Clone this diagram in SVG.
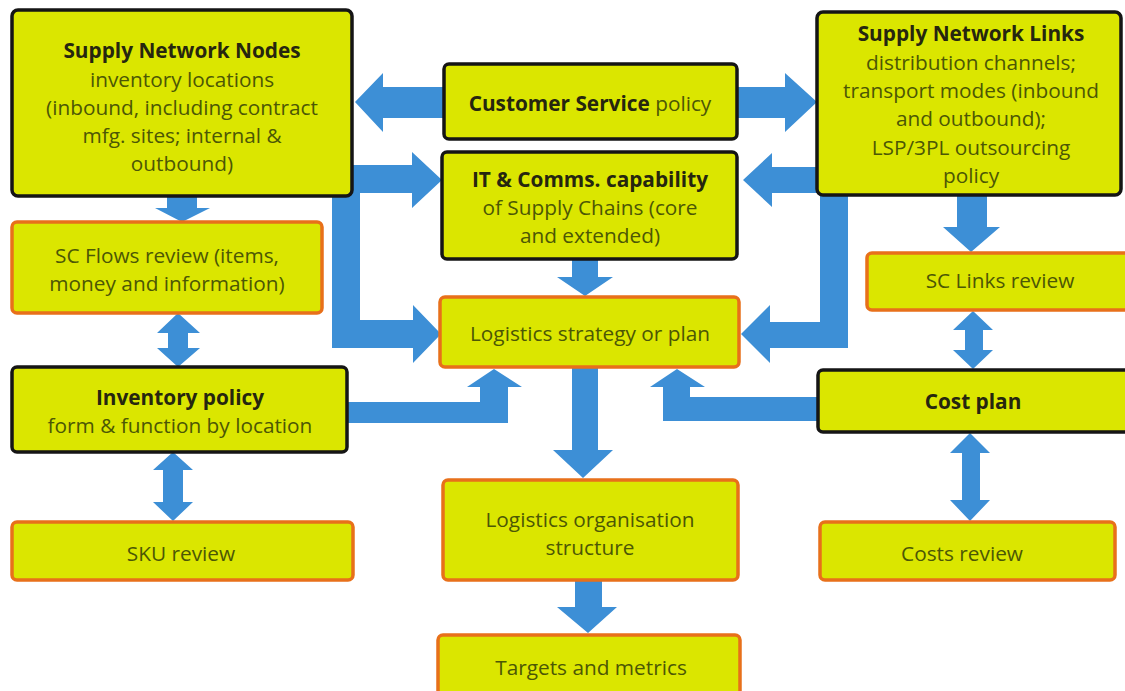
<svg xmlns="http://www.w3.org/2000/svg" width="1125" height="691" viewBox="0 0 1125 691">
<style>
.bk{fill:#dbe600;stroke:#151515;stroke-width:3.5}
.or{fill:#dbe600;stroke:#e8701a;stroke-width:3.5}
.ar{fill:#3d8fd6}
text{font-family:"Open Sans","Noto Sans","DejaVu Sans",sans-serif;font-size:20.8px;text-anchor:middle;fill:#4c5705}
.t{font-weight:bold;fill:#26260f;font-size:20.8px}
</style>
<rect width="1125" height="691" fill="#ffffff"/>
<g id="connectors">
<polygon class="ar" points="444,87 383,87 383,73 355,102 383,132 383,118 444,118"/>
<polygon class="ar" points="737,87 785,87 785,73 817,102 785,132 785,118 737,118"/>
<polygon class="ar" points="332,165 412,165 412,152 442,180 412,208 412,193 360,193 360,320 413,320 413,305 441,334 413,363 413,348 332,348"/>
<polygon class="ar" points="848,167 772,167 772,153 743,180 772,207 772,193 820,193 820,322 770,322 770,305 741,334 770,363 770,348 848,348"/>
<polygon class="ar" points="572,258 598,258 598,277 613,277 585,296 557,277 572,277"/>
<polygon class="ar" points="167,195 197,195 197,208 210,208 182,222 155,208 167,208"/>
<polygon class="ar" points="178,313 200,333 188,333 188,348 200,348 178,367 157,348 168,348 168,333 157,333"/>
<polygon class="ar" points="173,452 193,470 183,470 183,502 193,502 173,521 153,502 163,502 163,470 153,470"/>
<polygon class="ar" points="347,402 480,402 480,387 467,387 494,369 522,387 508,387 508,423 347,423"/>
<polygon class="ar" points="818,397 690,397 690,387 705,387 677,369 650,387 663,387 663,421 818,421"/>
<polygon class="ar" points="572,367 598,367 598,450 613,450 583,478 553,450 572,450"/>
<polygon class="ar" points="575,580 602,580 602,607 617,607 588,633 557,607 575,607"/>
<polygon class="ar" points="957,195 987,195 987,227 1000,227 971,252 943,227 957,227"/>
<polygon class="ar" points="973,311 993,330 983,330 983,350 993,350 973,369 953,350 965,350 965,330 953,330"/>
<polygon class="ar" points="970,433 990,453 980,453 980,500 990,500 970,521 950,500 962,500 962,453 950,453"/>
</g>
<g id="supply-network-nodes">
<rect class="bk" x="12" y="10" width="340" height="186" rx="6"/>
<text class="t" x="182" y="58">Supply Network Nodes</text>
<text x="182" y="87">inventory locations</text>
<text x="182" y="115">(inbound, including contract</text>
<text x="182" y="143">mfg. sites; internal &amp;</text>
<text x="182" y="171">outbound)</text>
</g>
<g id="sc-flows-review">
<rect class="or" x="12" y="222" width="310" height="91" rx="5"/>
<text x="167" y="263">SC Flows  review (items,</text>
<text x="167" y="291">money and information)</text>
</g>
<g id="inventory-policy">
<rect class="bk" x="12" y="367" width="335" height="85" rx="5"/>
<text class="t" x="180" y="405">Inventory  policy</text>
<text x="180" y="433">form &amp; function by location</text>
</g>
<g id="sku-review">
<rect class="or" x="12" y="522" width="341" height="58" rx="5"/>
<text x="181" y="561">SKU review</text>
</g>
<g id="customer-service">
<rect class="bk" x="444" y="64" width="293" height="75" rx="5"/>
<text x="590" y="111"><tspan class="t">Customer Service</tspan> policy</text>
</g>
<g id="it-comms">
<rect class="bk" x="442" y="152" width="295" height="107" rx="5"/>
<text class="t" x="590" y="187">IT &amp; Comms. capability</text>
<text x="590" y="215">of Supply Chains (core</text>
<text x="590" y="243">and extended)</text>
</g>
<g id="logistics-strategy">
<rect class="or" x="440" y="297" width="299" height="70" rx="5"/>
<text x="590" y="341">Logistics strategy or plan</text>
</g>
<g id="logistics-organisation">
<rect class="or" x="443" y="480" width="295" height="100" rx="5"/>
<text x="590" y="527">Logistics organisation</text>
<text x="590" y="555">structure</text>
</g>
<g id="targets-metrics">
<rect class="or" x="438" y="635" width="302" height="62" rx="5"/>
<text x="591" y="675">Targets and metrics</text>
</g>
<g id="supply-network-links">
<rect class="bk" x="817" y="12" width="304" height="183" rx="6"/>
<text class="t" x="971" y="41">Supply Network Links</text>
<text x="971" y="70">distribution channels;</text>
<text x="971" y="98">transport modes (inbound</text>
<text x="971" y="126">and outbound);</text>
<text x="971" y="155">LSP/3PL outsourcing</text>
<text x="971" y="183">policy</text>
</g>
<g id="sc-links-review">
<rect class="or" x="867" y="253" width="265" height="57" rx="5"/>
<text x="1000" y="288">SC Links review</text>
</g>
<g id="cost-plan">
<rect class="bk" x="818" y="370" width="312" height="62" rx="5"/>
<text class="t" x="973" y="409">Cost plan</text>
</g>
<g id="costs-review">
<rect class="or" x="820" y="522" width="295" height="58" rx="5"/>
<text x="962" y="561">Costs review</text>
</g>
</svg>
